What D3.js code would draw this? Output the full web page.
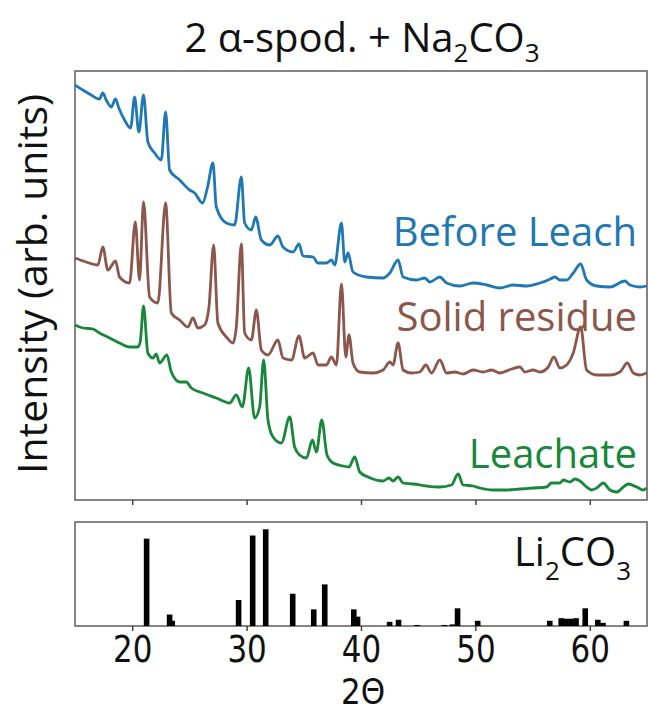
<!DOCTYPE html>
<html>
<head>
<meta charset="utf-8">
<script src="https://cdn.jsdelivr.net/npm/d3@7"></script>
<style>
    body { margin: 0; background: #fff; }
</style>
</head>
<body>
<script>
// readings: 2 theta and intensity (arb. units)
const beforeTheta = [15.0, 15.68, 16.27, 17.14, 17.43, 17.73, 18.17, 18.54, 18.83, 19.33, 19.86, 20.21, 20.58, 20.99, 21.37, 21.96, 22.54, 22.92, 23.27, 24.15, 25.02, 25.46, 26.16, 26.57, 27.06, 27.35, 28.23, 28.95, 29.54, 29.83, 30.42, 30.79, 31.29, 32.02, 32.74, 33.18, 34.06, 34.58, 34.93, 35.81, 36.24, 36.98, 37.41, 37.70, 38.29, 38.58, 38.87, 39.30, 40.48, 41.93, 42.52, 43.24, 43.68, 44.85, 45.58, 46.02, 46.89, 47.48, 48.64, 49.80, 50.98, 52.14, 53.30, 54.47, 55.64, 56.37, 56.95, 57.39, 57.97, 58.55, 59.20, 59.72, 60.60, 61.76, 63.08, 63.51, 64.39, 64.97];
const beforeInt = [416, 411, 407, 402, 408, 401, 394, 402, 393, 381, 373, 404, 369, 406, 359, 348, 341, 389, 331, 321, 311, 308, 298, 313, 338, 294, 278, 276, 324, 278, 271, 284, 261, 256, 265, 254, 249, 257, 245, 244, 238, 238, 241, 236, 278, 239, 248, 229, 224, 223, 228, 241, 224, 221, 223, 219, 224, 218, 215, 218, 216, 213, 216, 215, 218, 221, 224, 221, 221, 228, 237, 221, 215, 214, 220, 216, 214, 215];

const residueTheta = [15.0, 15.98, 17.0, 17.43, 17.87, 18.54, 18.89, 19.77, 20.27, 20.64, 20.99, 21.52, 22.24, 22.92, 23.42, 24.15, 24.87, 25.31, 25.74, 26.33, 26.71, 27.12, 27.49, 28.23, 28.81, 29.10, 29.54, 29.83, 30.42, 30.85, 31.29, 31.87, 32.74, 33.18, 33.92, 34.58, 35.08, 35.81, 36.24, 36.98, 37.41, 37.85, 38.29, 38.67, 38.95, 39.30, 39.89, 41.05, 41.93, 42.52, 42.80, 43.24, 43.68, 44.41, 45.14, 45.67, 46.16, 46.89, 47.48, 48.20, 48.93, 49.80, 50.68, 51.41, 52.14, 53.16, 53.89, 54.33, 55.05, 55.64, 56.37, 56.86, 57.39, 57.97, 58.55, 59.20, 59.72, 60.60, 61.76, 62.64, 63.28, 63.80, 64.39, 64.97];
const residueInt = [243, 239, 236, 254, 231, 240, 224, 218, 279, 221, 299, 204, 198, 298, 188, 181, 174, 183, 173, 176, 194, 256, 178, 164, 158, 174, 257, 168, 161, 191, 151, 146, 161, 143, 141, 165, 143, 148, 136, 136, 144, 136, 217, 144, 166, 138, 129, 128, 131, 139, 136, 158, 131, 128, 129, 136, 128, 141, 128, 129, 127, 131, 129, 131, 128, 132, 134, 129, 131, 129, 134, 144, 133, 136, 148, 174, 131, 126, 126, 129, 138, 128, 126, 128];

const leachTheta = [15.0, 15.68, 16.56, 17.14, 18.02, 18.89, 19.77, 20.49, 20.70, 20.99, 21.37, 21.81, 22.10, 22.39, 23.03, 23.42, 24.15, 24.73, 25.17, 26.18, 27.35, 28.52, 29.10, 29.63, 30.18, 30.70, 31.14, 31.49, 31.87, 32.31, 33.04, 33.77, 34.20, 34.64, 35.23, 35.75, 36.10, 36.57, 37.03, 37.56, 38.43, 38.95, 39.45, 39.89, 40.62, 41.93, 42.45, 42.80, 43.24, 43.68, 44.55, 45.73, 46.89, 47.91, 48.49, 48.93, 49.80, 50.39, 51.55, 52.73, 53.89, 55.05, 56.22, 56.66, 57.39, 57.68, 58.26, 58.70, 59.14, 59.72, 60.16, 60.60, 61.18, 61.76, 62.35, 62.93, 63.37, 64.10, 64.68, 64.97];
const leachInt = [176, 173, 172, 168, 163, 158, 154, 154, 159, 195, 148, 143, 147, 138, 146, 129, 119, 119, 113, 108, 103, 98, 106, 94, 133, 83, 94, 141, 81, 64, 58, 84, 54, 46, 43, 61, 49, 81, 46, 38, 35, 34, 44, 29, 24, 20, 23, 20, 24, 18, 17, 15, 14, 16, 27, 16, 15, 13, 11, 11, 12, 13, 14, 18, 18, 21, 19, 22, 20, 14, 11, 13, 18, 11, 9, 14, 17, 14, 11, 13];

// Li2CO3 reference pattern (relative intensity, %)
const stickTheta = [21.26, 23.27, 23.5, 29.3, 30.53, 31.67, 34.03, 35.87, 36.83, 39.37, 39.7, 42.5, 43.28, 44.9, 47.3, 48.0, 48.44, 50.2, 56.5, 57.5, 57.9, 58.35, 58.8, 59.6, 60.7, 61.15, 63.2];
const stickInt = [84, 11, 5, 25, 87, 93, 31, 16, 40, 16, 9, 4, 6, 1, 1, 1.5, 17, 5, 5, 7.5, 7, 7, 7.5, 17, 6, 3, 5];

const xTicks = [20, 30, 40, 50, 60];

// series names and colours
const seriesNames = ['Before Leach', 'Solid residue', 'Leachate'];
const seriesColors = ['#1f77b4', '#8c564b', '#17873a'];

const w = 648;
const h = 711;
// panel boxes
const topPanel = { left: 75, right: 647, top: 71, bottom: 500 };
const botPanel = { left: 75, right: 647, top: 522, bottom: 626 };

const svg = d3.select('body')
    .append('svg')
    .attr('width', w)
    .attr('height', h)
    .style('font-family', "'Open Sans', sans-serif");

// scales
const xScale = d3.scaleLinear()
    .domain([15, 65])
    .range([topPanel.left, topPanel.right]);
const yTop = d3.scaleLinear()
    .domain([0, 430])
    .range([501, 71]);
const yBot = d3.scaleLinear()
    .domain([0, 100])
    .range([botPanel.bottom, botPanel.top]);

// frames
[topPanel, botPanel].forEach(p => {
    svg.append('rect')
        .attr('x', p.left)
        .attr('y', p.top)
        .attr('width', p.right - p.left)
        .attr('height', p.bottom - p.top)
        .attr('fill', 'none')
        .attr('stroke', '#666')
        .attr('stroke-width', 1.6);
});

// traces
const line = d3.line()
    .curve(d3.curveMonotoneX)
    .x(d => xScale(d[0]))
    .y(d => yTop(d[1]));

const traces = [
    d3.zip(beforeTheta, beforeInt),
    d3.zip(residueTheta, residueInt),
    d3.zip(leachTheta, leachInt)
];

svg.append('g')
    .selectAll('path')
    .data(traces)
    .enter()
    .append('path')
    .attr('d', line)
    .attr('fill', 'none')
    .attr('stroke', (d, i) => seriesColors[i])
    .attr('stroke-width', 2.8)
    .attr('stroke-linejoin', 'round');

// trace labels
const labelPos = [[637, 246], [637, 331], [637, 468]];
svg.append('g')
    .selectAll('text')
    .data(seriesNames)
    .enter()
    .append('text')
    .attr('x', (d, i) => labelPos[i][0])
    .attr('y', (d, i) => labelPos[i][1])
    .attr('text-anchor', 'end')
    .attr('font-size', 40)
    .attr('fill', (d, i) => seriesColors[i])
    .text(d => d);

// sticks
svg.append('g')
    .selectAll('rect')
    .data(d3.zip(stickTheta, stickInt))
    .enter()
    .append('rect')
    .attr('x', d => xScale(d[0]) - 2.8)
    .attr('y', d => yBot(d[1]))
    .attr('width', 5.6)
    .attr('height', d => yBot(0) - yBot(d[1]))
    .attr('fill', '#000');

// x axis on top panel, ticks only
svg.append('g')
    .attr('transform', `translate(0, ${topPanel.bottom})`)
    .call(d3.axisBottom(xScale).tickValues(xTicks).tickSize(5).tickFormat(''))
    .call(g => g.select('.domain').remove())
    .selectAll('line').attr('stroke', '#444').attr('stroke-width', 1.5);

// x axis on bottom panel
const xAxisG = svg.append('g')
    .attr('transform', `translate(0, ${botPanel.bottom})`)
    .call(d3.axisBottom(xScale).tickValues(xTicks).tickSize(5));
xAxisG.select('.domain').remove();
xAxisG.selectAll('line').attr('stroke', '#444').attr('stroke-width', 1.5);
xAxisG.selectAll('text')
    .attr('y', 0)
    .attr('dy', 0)
    .attr('transform', 'translate(0, 36) scale(1, 1.18)')
    .attr('font-family', "'DejaVu Sans', sans-serif")
    .attr('font-size', 31)
    .attr('fill', '#111');

// axis titles
svg.append('text')
    .attr('transform', 'translate(363, 704) scale(1, 1.12)')
    .attr('text-anchor', 'middle')
    .attr('font-family', "'DejaVu Sans', sans-serif")
    .attr('font-size', 31)
    .attr('fill', '#111')
    .text('2Θ');

svg.append('text')
    .attr('transform', 'translate(47, 284) rotate(-90)')
    .attr('text-anchor', 'middle')
    .attr('font-size', 41)
    .attr('fill', '#111')
    .text('Intensity (arb. units)');

// title
const title = svg.append('text')
    .attr('x', 362)
    .attr('y', 52)
    .attr('text-anchor', 'middle')
    .attr('font-size', 40)
    .attr('fill', '#111');
title.append('tspan').text('2 α-spod. + Na');
title.append('tspan').attr('font-size', 26).attr('dy', 10).text('2');
title.append('tspan').attr('dy', -10).text('CO');
title.append('tspan').attr('font-size', 26).attr('dy', 10).text('3');

// phase label
const phase = svg.append('text')
    .attr('x', 631)
    .attr('y', 566)
    .attr('text-anchor', 'end')
    .attr('font-size', 40)
    .attr('fill', '#111');
phase.append('tspan').text('Li');
phase.append('tspan').attr('font-size', 26).attr('dy', 14).text('2');
phase.append('tspan').attr('dy', -14).text('CO');
phase.append('tspan').attr('font-size', 26).attr('dy', 14).text('3');
</script>
</body>
</html>
